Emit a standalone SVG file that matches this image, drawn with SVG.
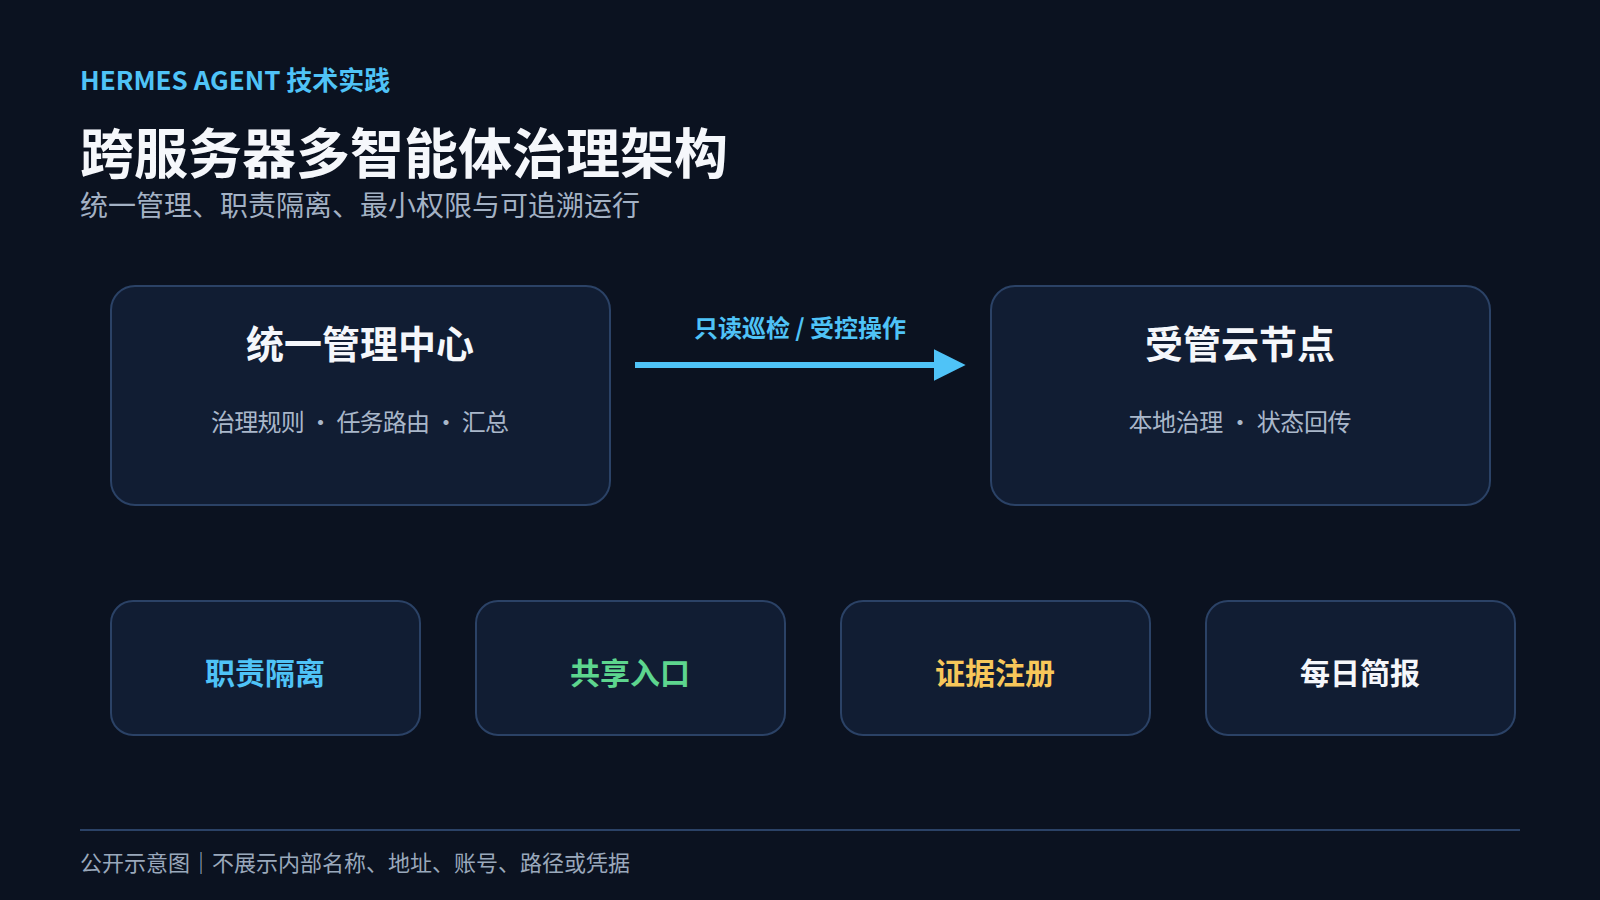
<svg xmlns="http://www.w3.org/2000/svg" width="1600" height="900" viewBox="0 0 1600 900">
<defs>
<style>
text{font-family:"Noto Sans CJK SC","Noto Sans",sans-serif}
.kicker{font-size:26px;font-weight:700;fill:#4fc3f7}
.title{font-size:54px;font-weight:700;fill:#f5f7fb}
.sub{font-size:28px;fill:#a3b1c4}
.box{fill:#111d33;stroke:#2b4266;stroke-width:2}
.btitle{font-size:38px;font-weight:700;fill:#f5f7fb;text-anchor:middle}
.bsub{font-size:24px;fill:#a9b7ca;text-anchor:middle}
.tag{font-size:30px;font-weight:700;text-anchor:middle}
.conn{stroke:#4fc3f7;stroke-width:6;fill:none}
.clabel{font-size:24px;font-weight:700;fill:#4fc3f7;text-anchor:middle}
.foot{font-size:22px;fill:#9aa8bb}
</style>
<marker id="arrow" viewBox="0 0 10 10" refX="1" refY="5" markerWidth="5.3" markerHeight="5.8" markerUnits="strokeWidth" orient="auto">
<path d="M0,0 L10,5 L0,10 Z" fill="#4fc3f7"/>
</marker>
</defs>
<rect width="1600" height="900" fill="#0b1220"/>
<g id="header">
<text class="kicker" x="80" y="90">HERMES AGENT 技术实践</text>
<text class="title" x="80" y="174">跨服务器多智能体治理架构</text>
<text class="sub" x="80" y="216">统一管理、职责隔离、最小权限与可追溯运行</text>
</g>
<g id="node-center">
<rect class="box" x="111" y="286" width="499" height="219" rx="24"/>
<text class="btitle" x="360" y="358">统一管理中心</text>
<text class="bsub" x="360" y="431" textLength="298" lengthAdjust="spacing">治理规则 · 任务路由 · 汇总</text>
</g>
<g id="node-cloud">
<rect class="box" x="991" y="286" width="499" height="219" rx="24"/>
<text class="btitle" x="1240" y="358">受管云节点</text>
<text class="bsub" x="1240" y="431" textLength="223" lengthAdjust="spacing">本地治理 · 状态回传</text>
</g>
<g id="connectors">
<line class="conn" x1="635" y1="365" x2="937" y2="365" marker-end="url(#arrow)"/>
<text class="clabel" x="800" y="337">只读巡检 / 受控操作</text>
</g>
<g id="tag-duty">
<rect class="box" x="111" y="601" width="309" height="134" rx="22"/>
<text class="tag" x="265" y="684" fill="#4fc3f7">职责隔离</text>
</g>
<g id="tag-entry">
<rect class="box" x="476" y="601" width="309" height="134" rx="22"/>
<text class="tag" x="630" y="684" fill="#5dd58e">共享入口</text>
</g>
<g id="tag-evidence">
<rect class="box" x="841" y="601" width="309" height="134" rx="22"/>
<text class="tag" x="995" y="684" fill="#f7c75a">证据注册</text>
</g>
<g id="tag-brief">
<rect class="box" x="1206" y="601" width="309" height="134" rx="22"/>
<text class="tag" x="1360" y="684" fill="#f5f7fb">每日简报</text>
</g>
<g id="footer">
<line x1="80" y1="830" x2="1520" y2="830" stroke="#2b4266" stroke-width="2"/>
<text class="foot" x="80" y="871">公开示意图｜不展示内部名称、地址、账号、路径或凭据</text>
</g>
</svg>
